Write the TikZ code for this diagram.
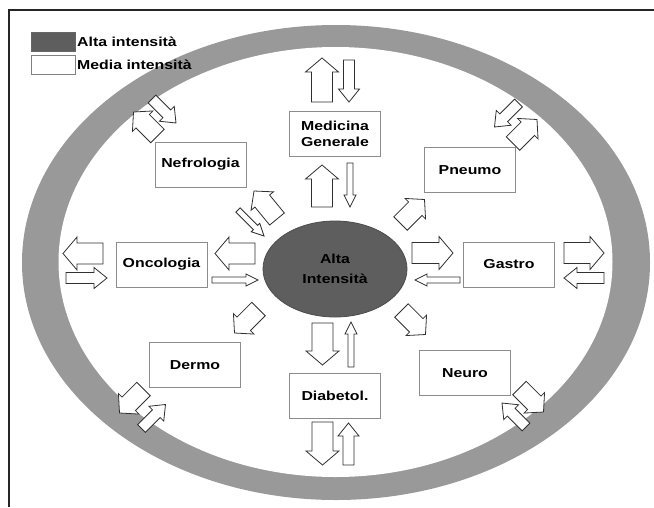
\documentclass[tikz,border=0pt]{standalone}
\usepackage{fontspec}
\setmainfont{Liberation Sans}
\usepackage{graphicx}
\usetikzlibrary{shapes.geometric}
\definecolor{ringgray}{HTML}{999999}
\definecolor{coregray}{HTML}{5E5E5E}
\definecolor{boxline}{HTML}{8C8C8C}
\definecolor{arrline}{HTML}{303030}
\newcommand\wt[1]{\scalebox{1.22}[1]{#1}}
\newcommand\blkarrow[7]{%
  \pgfmathsetmacro\baang{atan2(-(#4-#2),#3-#1)}%
  \pgfmathsetmacro\balen{veclen(#3-#1,#4-#2)}%
  \begin{scope}[shift={(#1,#2)},rotate=\baang]
    \draw[blk] (0,-#5/2) -- (\balen-#7,-#5/2) -- (\balen-#7,-#6/2) -- (\balen,0)
      -- (\balen-#7,#6/2) -- (\balen-#7,#5/2) -- (0,#5/2) -- cycle;
  \end{scope}}
\newcommand\arrW[4]{\blkarrow{#1}{#2}{#3}{#4}{21}{33}{14}}
\newcommand\arrD[4]{\blkarrow{#1}{#2}{#3}{#4}{19}{29}{13}}
\newcommand\arrM[4]{\blkarrow{#1}{#2}{#3}{#4}{11}{21}{13}}
\newcommand\arrT[4]{\blkarrow{#1}{#2}{#3}{#4}{6}{12}{12}}
\tikzset{
  blk/.style={draw=arrline, line width=0.8pt, fill=white, line join=miter},
  unit/.style={draw=boxline, line width=0.9pt, fill=white, minimum width=91pt,
    minimum height=45pt, inner sep=0pt, align=center,
    font=\fontsize{13}{16}\selectfont\bfseries},
  legtext/.style={anchor=west, inner sep=0pt, font=\fontsize{13}{16}\selectfont\bfseries},
}
\begin{document}
\begin{tikzpicture}[x=1pt,y=-1pt]
\useasboundingbox (0,0) rectangle (654,507);
\fill[white] (0,0) rectangle (654,507);
% frame
\draw[line width=1.4pt, black!85] (9,507) -- (9,10) -- (654,10);
% ring
\fill[ringgray] (336,262.5) ellipse [x radius=314, y radius=237.5];
\fill[white] (335.5,262) ellipse [x radius=277, y radius=215];

% vertical arrows
\arrW{322}{102}{322}{58}
\arrM{349}{60}{349}{102}
\arrW{322}{207}{322}{165}
\arrT{350}{163}{350}{207}
\arrW{322.5}{323}{322.5}{365}
\arrT{351}{367}{351}{322}
\arrW{322.5}{422}{322.5}{465}
\arrM{348.5}{465}{348.5}{423}
% horizontal arrows
\arrW{255}{253.5}{215}{253.5}
\arrT{212}{280}{258}{280}
\arrW{103}{253.5}{63}{253.5}
\arrM{66}{278}{107}{278}
\arrW{412}{253}{453}{253}
\arrT{460}{280}{415}{280}
\arrW{564}{253}{604}{253}
\arrM{604}{278}{564}{278}
% inner diagonal arrows
\arrD{400.5}{223.5}{424.5}{199.5}
\arrD{401.5}{310.5}{425.5}{334.5}
\arrD{258.5}{309}{234.5}{333}
\arrD{277}{219}{254}{191}
\arrT{238}{210}{264}{236}
% outer diagonal arrows
\arrD{157.5}{136}{133.5}{112}
\arrM{152}{99}{176}{123}
\arrM{518.5}{103}{494.5}{127}
\arrD{513}{143.5}{537}{119.5}
\arrM{526}{427}{502}{403}
\arrD{519.5}{388}{543.5}{412}
\arrD{143.5}{389}{119.5}{413}
\arrM{141.5}{428.5}{165.5}{404.5}

% unit boxes
\node[unit] (mg) at (335,134) {\wt{Medicina}\\\wt{Generale}};
\node[unit] (nefro) at (200.5,164.5) {\wt{Nefrologia}};
\node[unit] (pneumo) at (470,170) {\wt{Pneumo}};
\node[unit] (onco) at (161.5,264.5) {\wt{Oncologia}};
\node[unit] (gastro) at (509,264.5) {\wt{Gastro}};
\node[unit] (dermo) at (195,365) {\wt{Dermo}};
\node[unit] (diab) at (335,396) {\wt{Diabetol.}};
\node[unit] (neuro) at (465,373) {\wt{Neuro}};

% core
\node[draw=black!70, line width=0.8pt, fill=coregray, ellipse, minimum width=144pt,
  minimum height=96pt, inner sep=0pt, align=center,
  font=\fontsize{13}{20}\selectfont\bfseries] (core) at (335,269)
  {\wt{Alta}\\\wt{Intensità}};

% legend
\node[draw=black!60, fill=coregray, minimum width=44pt, minimum height=19pt,
  inner sep=0pt] (legA) at (53,41.5) {};
\node[draw=black!50, fill=white, minimum width=44pt, minimum height=19pt,
  inner sep=0pt] (legM) at (53,64.5) {};
\node[legtext] (legAt) at (77,42) {\wt{Alta intensità}};
\node[legtext] (legMt) at (77,65) {\wt{Media intensità}};
\end{tikzpicture}
\end{document}
